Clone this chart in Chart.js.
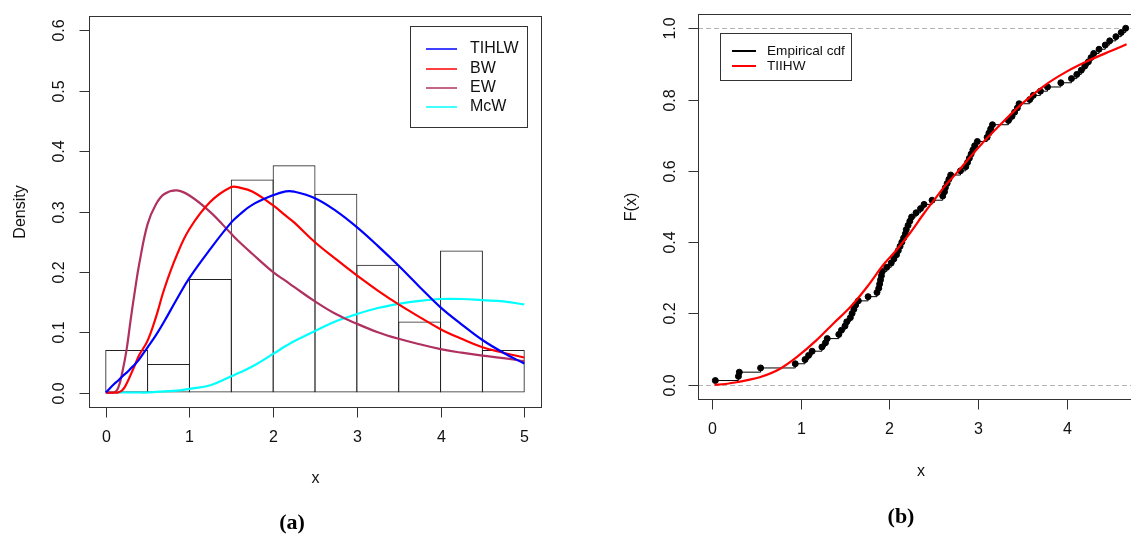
<!DOCTYPE html>
<html>
<head>
<meta charset="utf-8">
<script src="https://cdn.jsdelivr.net/npm/chart.js@4.4.0/dist/chart.umd.min.js"></script>
<style>
  html, body { margin: 0; padding: 0; background: #fff; overflow: hidden; width: 1131px; height: 536px; }
  #wrap { position: relative; width: 1131px; height: 536px; overflow: hidden; }
  canvas { position: absolute; top: 0; }
  #densChart { left: 0; }
  #cdfChart { left: 560px; }
</style>
</head>
<body>
<div id="wrap">
  <canvas id="densChart" width="560" height="536"></canvas>
  <canvas id="cdfChart" width="600" height="536"></canvas>
</div>
<script>
// ── (a) histogram + fitted densities ─────────────────────────
const BIN_MID = [0.25, 0.75, 1.25, 1.75, 2.25, 2.75, 3.25, 3.75, 4.25, 4.75];
const HIST_DENSITY = [0.0706, 0.0471, 0.1882, 0.3529, 0.3765, 0.3294, 0.2118, 0.1176, 0.2353, 0.0706];

const DENS_X = [0, 0.1, 0.15, 0.2, 0.25, 0.3, 0.35, 0.4, 0.5, 0.6, 0.7, 0.85, 1,
                1.25, 1.5, 1.6, 1.75, 2, 2.15, 2.25, 2.5, 2.75, 3, 3.25, 3.5, 3.75, 4, 4.25, 4.5, 4.75, 5];
const TIHLW = [0, 0.014, 0.02, 0.027, 0.033, 0.04, 0.047, 0.055, 0.075, 0.095, 0.118, 0.155, 0.19,
               0.238, 0.282, 0.295, 0.311, 0.327, 0.3333, 0.333, 0.322, 0.301, 0.274, 0.243, 0.21, 0.175, 0.141, 0.113, 0.087, 0.066, 0.048];
const BW    = [0, 0, 0, 0.004, 0.015, 0.03, 0.046, 0.062, 0.086, 0.125, 0.172, 0.228, 0.271,
               0.316, 0.3405, 0.3395, 0.333, 0.31, 0.293, 0.282, 0.249, 0.221, 0.194, 0.169, 0.146, 0.125, 0.105, 0.089, 0.075, 0.066, 0.058];
const EW    = [0, 0, 0.008, 0.035, 0.072, 0.123, 0.17, 0.213, 0.279, 0.312, 0.329, 0.335, 0.3265,
               0.299, 0.263, 0.249, 0.23, 0.1995, 0.185, 0.175, 0.151, 0.13, 0.114, 0.1, 0.089, 0.08, 0.072, 0.066, 0.061, 0.057, 0.052];
const MCW   = [0, 0, 0, 0, 0, 0, 0, 0, 0, 0.001, 0.002, 0.003, 0.006,
               0.012, 0.027, 0.033, 0.043, 0.064, 0.077, 0.085, 0.102, 0.118, 0.13, 0.14, 0.147, 0.152, 0.155, 0.155, 0.153, 0.151, 0.146];

const DENS_XTICKS = [0, 1, 2, 3, 4, 5];
const DENS_YTICKS = [0, 0.1, 0.2, 0.3, 0.4, 0.5, 0.6];
const DENS_LEGEND = ['TIHLW', 'BW', 'EW', 'McW'];
const DENS_COLORS = ['#0000FF', '#FF0000', '#B03060', '#00FFFF'];

// ── (b) empirical cdf + fitted cdf ───────────────────────────
const ECDF_X = [0.04, 0.30, 0.31, 0.55, 0.94,
  1.05, 1.09, 1.13, 1.24, 1.28, 1.30, 1.43, 1.46,
  1.50, 1.52, 1.56, 1.58, 1.60, 1.62, 1.65, 1.76, 1.86, 1.88, 1.89, 1.90, 1.91, 1.92, 1.97,
  2.02, 2.05, 2.08, 2.10, 2.12, 2.14, 2.16, 2.18, 2.19, 2.21, 2.23, 2.25, 2.30, 2.35, 2.39, 2.48,
  2.60, 2.62, 2.63, 2.65, 2.67, 2.69, 2.80, 2.86, 2.88, 2.90, 2.92, 2.94, 2.96, 2.99,
  3.10, 3.12, 3.14, 3.16, 3.34, 3.38, 3.41, 3.44, 3.46,
  3.58, 3.62, 3.70, 3.78, 3.93,
  4.05, 4.11, 4.16, 4.20, 4.24, 4.27, 4.30, 4.36, 4.43, 4.48,
  4.55, 4.61, 4.66];

const FIT_X = [0.03, 0.15, 0.28, 0.4, 0.54, 0.77, 0.96, 1.18, 1.37, 1.56, 1.75, 1.93, 2.08, 2.23,
               2.39, 2.5, 2.61, 2.76, 3.0, 3.25, 3.5, 3.75, 4.0, 4.25, 4.5, 4.67];
const FIT_F = [0, 0.002, 0.007, 0.013, 0.021, 0.045, 0.078, 0.125, 0.172, 0.218, 0.275, 0.336, 0.378, 0.425,
               0.481, 0.517, 0.553, 0.595, 0.665, 0.73, 0.79, 0.84, 0.879, 0.91, 0.937, 0.955];

const CDF_XTICKS = [0, 1, 2, 3, 4];
const CDF_YTICKS = [0, 0.2, 0.4, 0.6, 0.8, 1.0];
const CDF_LEGEND = ['Empirical cdf', 'TIIHW'];
const CDF_COLORS = ['#000000', '#FF0000'];

const SANS = '"Liberation Sans", Arial, sans-serif';

Chart.defaults.font.family = SANS;
Chart.defaults.animation = false;

// R-style frame: box, outward ticks, rotated y labels, titles
function rFrame(o) {
  return {
    id: 'rFrame',
    beforeDatasetsDraw(chart) {
      if (!o.hlines) return;
      const { ctx, chartArea: a, scales: { y } } = chart;
      ctx.save();
      ctx.strokeStyle = '#b3b3b3';
      ctx.lineWidth = 1;
      ctx.setLineDash([5, 3]);
      o.hlines.forEach(v => {
        const py = Math.round(y.getPixelForValue(v)) + 0.5;
        ctx.beginPath(); ctx.moveTo(a.left, py); ctx.lineTo(a.right, py); ctx.stroke();
      });
      ctx.restore();
    },
    afterDraw(chart) {
      const { ctx, chartArea: a, scales: { x, y } } = chart;
      ctx.save();
      ctx.strokeStyle = '#333';
      ctx.lineWidth = 1;
      const L = Math.round(a.left) + 0.5, T = Math.round(a.top) + 0.5;
      const R = Math.round(a.right) + 0.5, B = Math.round(a.bottom) + 0.5;
      ctx.strokeRect(L, T, R - L, B - T);

      ctx.fillStyle = '#111';
      ctx.font = '16px ' + SANS;
      ctx.textAlign = 'center';
      ctx.textBaseline = 'middle';
      o.xTicks.forEach(v => {
        const px = Math.round(x.getPixelForValue(v)) + 0.5;
        ctx.beginPath(); ctx.moveTo(px, B); ctx.lineTo(px, B + 10); ctx.stroke();
        ctx.fillText(String(v), px, B + 30);
      });
      o.yTicks.forEach(v => {
        const py = Math.round(y.getPixelForValue(v)) + 0.5;
        ctx.beginPath(); ctx.moveTo(L - 10, py); ctx.lineTo(L, py); ctx.stroke();
        ctx.save();
        ctx.translate(L - o.yLabGap, py);
        ctx.rotate(-Math.PI / 2);
        ctx.fillText(v.toFixed(1), 0, 0);
        ctx.restore();
      });

      // axis titles
      ctx.fillText(o.xTitle, (L + R) / 2, B + o.xTitleGap);
      ctx.save();
      ctx.translate(L - o.yTitleGap, (T + B) / 2);
      ctx.rotate(-Math.PI / 2);
      ctx.fillText(o.yTitle, 0, 0);
      ctx.restore();

      // legend
      const lg = o.legend;
      ctx.strokeStyle = '#333';
      ctx.lineWidth = 1;
      ctx.strokeRect(lg.box[0] + 0.5, lg.box[1] + 0.5, lg.box[2], lg.box[3]);
      ctx.font = lg.font;
      ctx.textAlign = 'left';
      lg.labels.forEach((t, i) => {
        const ry = lg.rows[i];
        ctx.strokeStyle = lg.colors[i];
        ctx.lineWidth = lg.lw;
        ctx.beginPath(); ctx.moveTo(lg.line[0], ry); ctx.lineTo(lg.line[1], ry); ctx.stroke();
        ctx.fillStyle = '#111';
        ctx.fillText(t, lg.textX, ry);
      });

      // panel tag
      ctx.font = 'bold 22px "Liberation Serif", "Times New Roman", serif';
      ctx.textAlign = 'center';
      ctx.fillStyle = '#000';
      ctx.fillText(o.tag[0], o.tag[1], o.tag[2]);
      ctx.restore();
    }
  };
}

function curve(label, ys, color) {
  return {
    label,
    data: DENS_X.map((x, i) => ({ x, y: ys[i] })),
    borderColor: color,
    borderWidth: 2.2,
    pointRadius: 0,
    fill: false,
    tension: 0.4,
    order: 1,
  };
}

// ── chart (a) ──
new Chart(document.getElementById('densChart'), {
  type: 'line',
  data: {
    datasets: [
      curve(DENS_LEGEND[0], TIHLW, DENS_COLORS[0]),
      curve(DENS_LEGEND[1], BW, DENS_COLORS[1]),
      curve(DENS_LEGEND[2], EW, DENS_COLORS[2]),
      curve(DENS_LEGEND[3], MCW, DENS_COLORS[3]),
      {
        type: 'bar',
        label: 'hist',
        data: BIN_MID.map((x, i) => ({ x, y: HIST_DENSITY[i] })),
        backgroundColor: 'rgba(255,255,255,0)',
        borderColor: '#222',
        borderWidth: 1,
        borderSkipped: false,
        inflateAmount: 0,
        barPercentage: 1.024,   // neighbouring borders share one pixel
        categoryPercentage: 1,
        order: 5,
      },
    ],
  },
  options: {
    responsive: false,
    layout: { padding: { left: 89, top: 16, right: 19, bottom: 129 } },
    scales: {
      x: { type: 'linear', min: -0.2, max: 5.2, offset: false, display: false },
      y: { type: 'linear', min: -0.024, max: 0.624, display: false },
    },
    plugins: { legend: { display: false }, tooltip: { enabled: false } },
  },
  plugins: [rFrame({
    xTicks: DENS_XTICKS, yTicks: DENS_YTICKS, yLabGap: 30,
    xTitle: 'x', xTitleGap: 71, yTitle: 'Density', yTitleGap: 69,
    legend: {
      box: [410, 26, 117, 101], line: [426, 457], textX: 470,
      rows: [49, 69, 88, 107], labels: DENS_LEGEND, colors: DENS_COLORS,
      lw: 1.5, font: '16px ' + SANS,
    },
    tag: ['(a)', 292, 523],
  })],
});

// ── chart (b) ──
new Chart(document.getElementById('cdfChart'), {
  type: 'line',
  data: {
    datasets: [
      {
        label: CDF_LEGEND[1],
        data: FIT_X.map((x, i) => ({ x, y: FIT_F[i] })),
        borderColor: CDF_COLORS[1],
        borderWidth: 2.2,
        pointRadius: 0,
        cubicInterpolationMode: 'monotone',
        order: 1,
      },
      {
        label: CDF_LEGEND[0],
        data: ECDF_X.map((x, i) => ({ x, y: (i + 1) / ECDF_X.length })),
        borderColor: CDF_COLORS[0],
        borderWidth: 1,
        stepped: true,
        pointRadius: 3,
        pointBorderWidth: 1,
        pointBackgroundColor: '#000',
        pointBorderColor: '#000',
        order: 2,
      },
    ],
  },
  options: {
    responsive: false,
    layout: { padding: { left: 138, top: 14, right: 17, bottom: 137 } },
    scales: {
      x: { type: 'linear', min: -0.155, max: 4.855, offset: false, display: false },
      y: { type: 'linear', min: -0.04, max: 1.04, display: false },
    },
    plugins: { legend: { display: false }, tooltip: { enabled: false } },
  },
  plugins: [rFrame({
    hlines: [0, 1],
    xTicks: CDF_XTICKS, yTicks: CDF_YTICKS, yLabGap: 28,
    xTitle: 'x', xTitleGap: 72, yTitle: 'F(x)', yTitleGap: 67,
    legend: {
      box: [160, 33, 131, 47], line: [172, 196], textX: 207,
      rows: [51, 66], labels: CDF_LEGEND, colors: CDF_COLORS,
      lw: 2, font: '13.6px ' + SANS,
    },
    tag: ['(b)', 341, 517],
  })],
});
</script>
</body>
</html>
